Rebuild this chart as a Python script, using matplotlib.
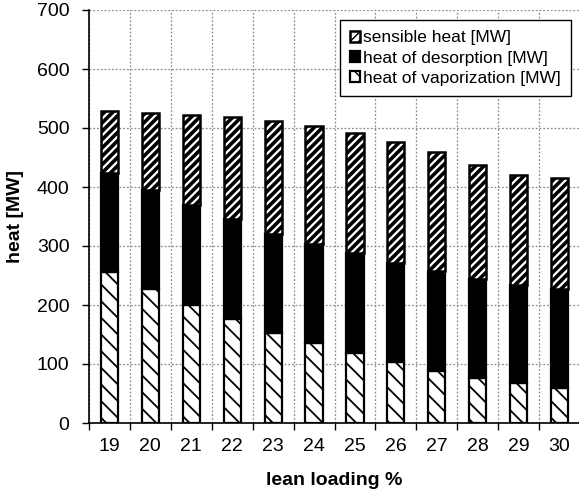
import matplotlib
matplotlib.use("Agg")
import matplotlib.pyplot as plt
import numpy as np
from matplotlib.ticker import MultipleLocator, FixedLocator

plt.rcParams['font.family'] = ['Liberation Sans', 'DejaVu Sans']

lean_loading = ["19", "20", "21", "22", "23", "24", "25", "26", "27", "28", "29", "30"]
heat_vaporization = [256, 227, 200, 176, 153, 136, 118, 103, 88, 77, 67, 60]
heat_desorption = [168, 168, 170, 169, 168, 168, 170, 169, 170, 167, 167, 167]
sensible_heat = [104, 130, 152, 173, 191, 200, 204, 204, 201, 193, 187, 189]

x = np.arange(len(lean_loading))
width = 0.42

fig = plt.figure(figsize=(5.79, 4.91), dpi=100)
ax = fig.add_axes([89 / 579, 68 / 491, 491 / 579, 413 / 491])

vap = np.array(heat_vaporization)
des = np.array(heat_desorption)
sen = np.array(sensible_heat)

with plt.rc_context({'hatch.linewidth': 1.3}):
    b_vap = ax.bar(x, vap, width, color='white', edgecolor='black',
                   linewidth=1.6, hatch='\\\\', zorder=3,
                   label='heat of vaporization [MW]')
b_des = ax.bar(x, des, width, bottom=vap, color='black', edgecolor='black',
               linewidth=1.6, zorder=3, label='heat of desorption [MW]')
with plt.rc_context({'hatch.linewidth': 2.6}):
    b_sen = ax.bar(x, sen, width, bottom=vap + des, color='white',
                   edgecolor='black', linewidth=1.8, hatch='////', zorder=3,
                   label='sensible heat [MW]')

ax.set_xlim(-0.5, len(x) - 0.5)
ax.set_ylim(0, 700)
ax.yaxis.set_major_locator(MultipleLocator(100))
ax.set_xticks(x)
ax.set_xticklabels(lean_loading)
ax.xaxis.set_minor_locator(FixedLocator(np.arange(-0.5, len(x), 1.0)))

ax.tick_params(axis='x', which='major', length=0, pad=11, labelsize=14)
ax.tick_params(axis='x', which='minor', length=5, width=1, direction='out')
ax.tick_params(axis='y', which='major', length=5, width=1, direction='out',
               pad=9, labelsize=14)

ax.grid(True, axis='y', which='major', color='#8c8c8c', linestyle=(0, (1.5, 1.5)),
        linewidth=0.9, zorder=0)
ax.grid(True, axis='x', which='minor', color='#8c8c8c', linestyle=(0, (1.5, 1.5)),
        linewidth=0.9, zorder=0)
ax.set_axisbelow(True)

for side in ('top', 'right'):
    ax.spines[side].set_visible(False)
for side in ('left', 'bottom'):
    ax.spines[side].set_linewidth(1.2)

ax.set_xlabel('lean loading %', fontsize=14, fontweight='bold', labelpad=12)
ax.set_ylabel('heat [MW]', fontsize=14, fontweight='bold', labelpad=9)

handles = [b_sen, b_des, b_vap]
labels = [h.get_label() for h in handles]
leg = ax.legend(handles, labels, loc='upper right', bbox_to_anchor=(0.982, 0.976),
                borderaxespad=0, fontsize=12.5, fancybox=False, framealpha=1,
                edgecolor='black', handlelength=0.6, handleheight=0.6,
                handletextpad=0.15, labelspacing=0.3, borderpad=0.6)
leg.get_frame().set_linewidth(1.0)
leg.set_zorder(5)

fig.savefig('out.png', dpi=100)
